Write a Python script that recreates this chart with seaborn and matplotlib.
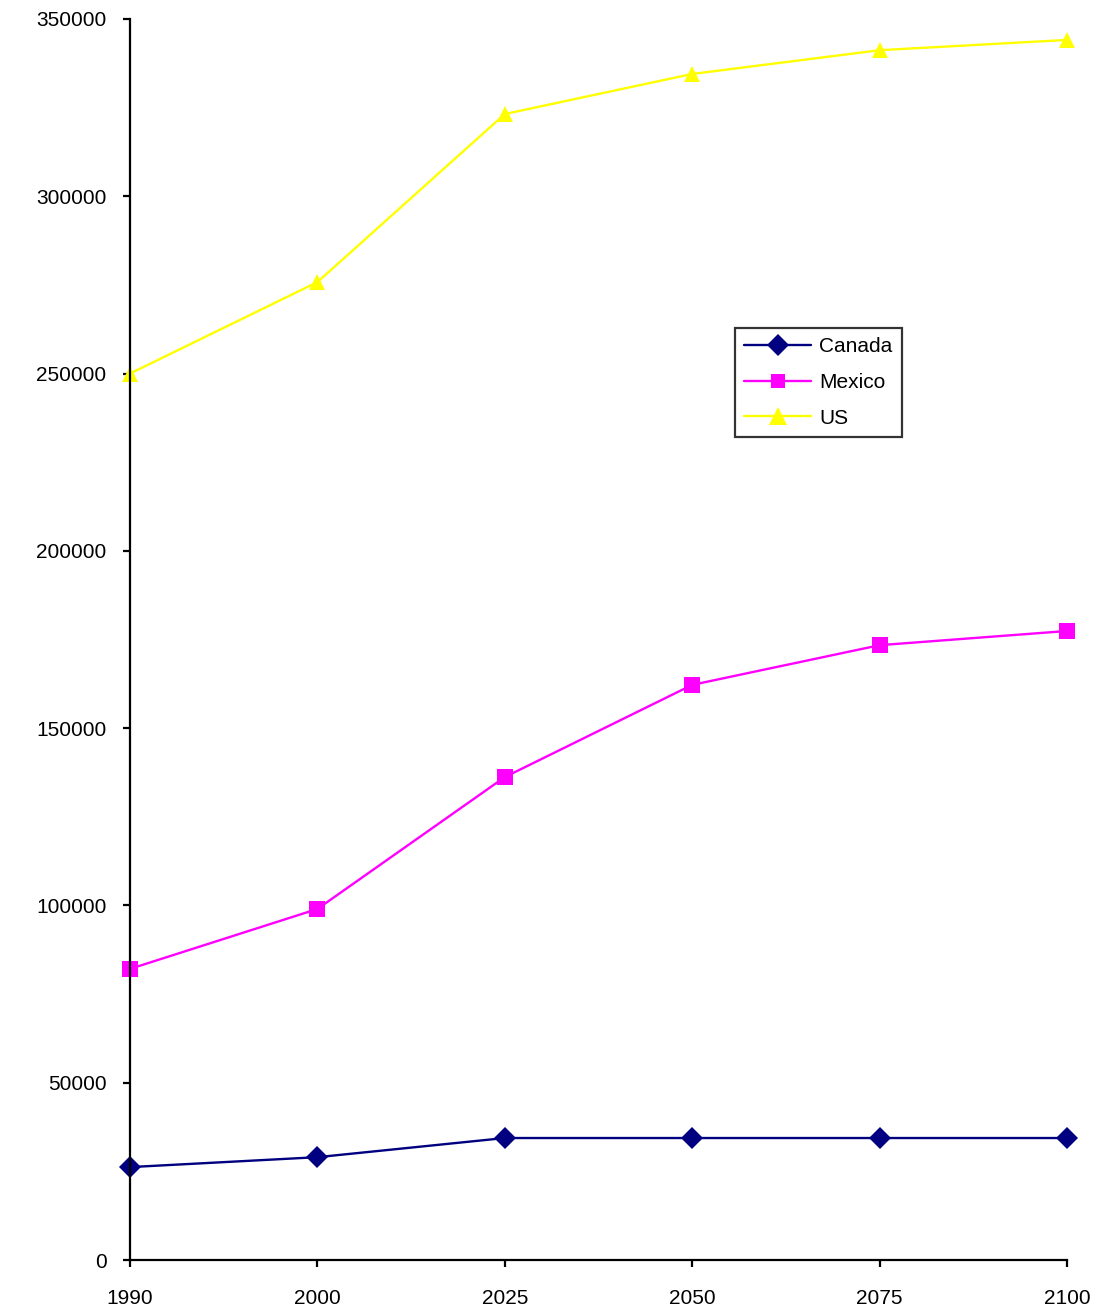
import pandas as pd
import matplotlib
matplotlib.use("Agg")
import matplotlib.pyplot as plt
import seaborn as sns

years = ["1990", "2000", "2025", "2050", "2075", "2100"]
canada = [26200, 29000, 34400, 34400, 34400, 34400]
mexico = [82100, 99000, 136200, 162200, 173400, 177400]
us = [250000, 275800, 323200, 334500, 341200, 344100]

rows = []
for name, vals in [("Canada", canada), ("Mexico", mexico), ("US", us)]:
    for i, v in enumerate(vals):
        rows.append({"pos": i, "Year": years[i], "Country": name, "Value": v})
df = pd.DataFrame(rows)

sns.set_style("white")
plt.rcParams["font.family"] = ["Liberation Sans", "DejaVu Sans"]
plt.rcParams["text.color"] = "black"

fig = plt.figure(figsize=(10.99, 13.12), dpi=100)
ax = fig.add_axes([130 / 1099, 52 / 1312, 937 / 1099, 1241 / 1312])

palette = {"Canada": "#000080", "Mexico": "#FF00FF", "US": "#FFFF00"}
markers = {"Canada": "D", "Mexico": "s", "US": "^"}
sizes = {"Canada": 11, "Mexico": 10.5, "US": 13}
sns.lineplot(data=df, x="pos", y="Value", hue="Country", style="Country",
             palette=palette, markers=markers, dashes=False, linewidth=1.7,
             markersize=11, markeredgewidth=0, ax=ax, clip_on=False, sort=False)

# per-series marker sizes
for line in ax.get_lines():
    lab = line.get_label()
    if lab in sizes:
        line.set_markersize(sizes[lab])

ax.set_xlim(0, 5)
ax.set_ylim(0, 350000)
ax.set_xticks(range(len(years)))
ax.set_xticklabels(years)
ax.set_yticks(range(0, 350001, 50000))
ax.set_yticklabels([str(v) for v in range(0, 350001, 50000)])
ax.set_xlabel("")
ax.set_ylabel("")

for s in ["top", "right"]:
    ax.spines[s].set_visible(False)
for s in ["left", "bottom"]:
    ax.spines[s].set_linewidth(1.6)
    ax.spines[s].set_color("black")
ax.tick_params(axis="both", direction="out", length=5, width=1.6, colors="black",
               labelsize=15, left=True, bottom=True)
ax.tick_params(axis="y", pad=12)
ax.tick_params(axis="x", pad=16)

leg = ax.legend(loc="upper left", bbox_to_anchor=((735 - 130) / 937, (1260 - 328) / 1241),
                borderaxespad=0, frameon=True, fancybox=False, fontsize=15,
                handlelength=3.2, labelspacing=0.8, borderpad=0.45, handletextpad=0.4)
leg.get_frame().set_edgecolor("black")
leg.get_frame().set_linewidth(1.6)
for h in leg.legend_handles:
    lab = h.get_label()
    if lab in sizes:
        h.set_markersize(sizes[lab])
    h.set_linewidth(1.7)

fig.savefig("out.png", dpi=100)
